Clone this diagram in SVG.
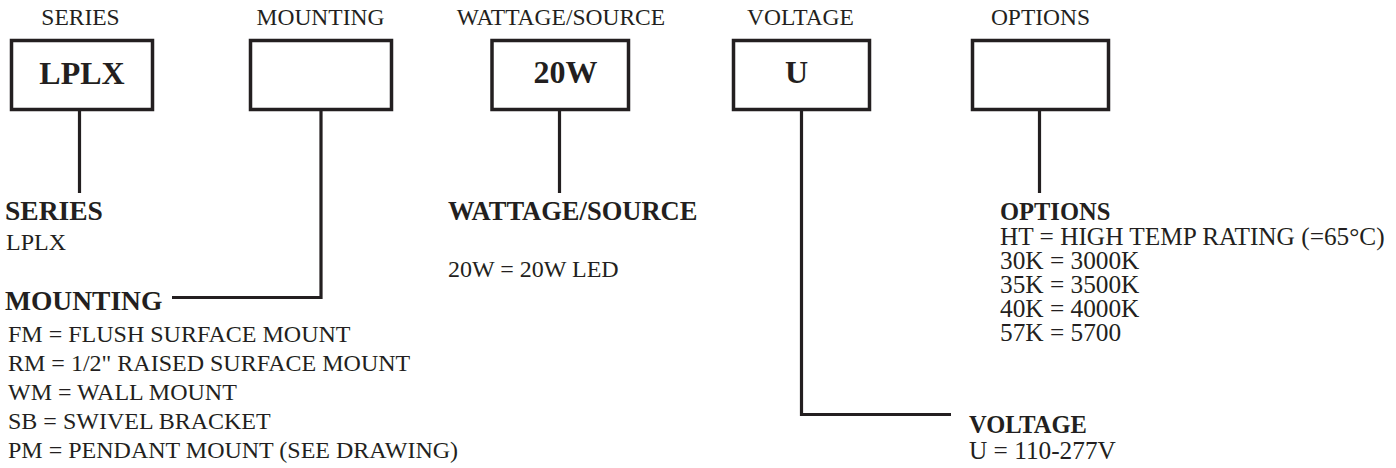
<svg xmlns="http://www.w3.org/2000/svg" width="1396" height="468" viewBox="0 0 1396 468">
<style>
.box{fill:#fff;stroke:#231f20;stroke-width:3.5}
.ln{fill:none;stroke:#231f20;stroke-width:3.2}
text{font-family:"Liberation Serif","Times New Roman",serif;fill:#231f20}
.top{font-size:23.5px;text-anchor:middle}
.code{font-size:32px;font-weight:bold;text-anchor:middle}
.h{font-size:27.5px;font-weight:bold}
.hw{font-size:26.5px;font-weight:bold}
.hr{font-size:24.5px;font-weight:bold}
.t{font-size:24px}
.t2{font-size:25.3px}
</style>
<rect width="1396" height="468" fill="#fff"/>
<g id="connectors">
<path class="ln" d="M79.5 111V193"/>
<path class="ln" d="M321 111V297.5H172"/>
<path class="ln" d="M559.5 111V193"/>
<path class="ln" d="M801.5 111V414.5H951"/>
<path class="ln" d="M1039.5 111V193"/>
</g>
<g id="series">
<text class="top" x="80.5" y="25">SERIES</text>
<rect class="box" x="11.5" y="40.5" width="141" height="69"/>
<text class="code" x="82" y="83.5">LPLX</text>
<text class="h" x="5" y="220">SERIES</text>
<text class="t" x="6" y="250">LPLX</text>
</g>
<g id="mounting">
<text class="top" x="320.5" y="25">MOUNTING</text>
<rect class="box" x="250.5" y="40.5" width="141" height="69"/>
<text class="h" x="5" y="310">MOUNTING</text>
<text class="t" x="8" y="341.5">FM = FLUSH SURFACE MOUNT</text>
<text class="t" x="8" y="370.5">RM = 1/2" RAISED SURFACE MOUNT</text>
<text class="t" x="8" y="399.5">WM = WALL MOUNT</text>
<text class="t" x="8" y="429">SB = SWIVEL BRACKET</text>
<text class="t" x="8" y="458">PM = PENDANT MOUNT (SEE DRAWING)</text>
</g>
<g id="wattage">
<text class="top" x="561" y="25">WATTAGE/SOURCE</text>
<rect class="box" x="492" y="40.5" width="136.5" height="69"/>
<text class="code" x="565.5" y="83">20W</text>
<text class="hw" x="448" y="220">WATTAGE/SOURCE</text>
<text class="t" x="448" y="277">20W = 20W LED</text>
</g>
<g id="voltage">
<text class="top" x="800.5" y="25">VOLTAGE</text>
<rect class="box" x="733.5" y="40.5" width="136" height="69"/>
<text class="code" x="796.5" y="83">U</text>
<text class="hr" x="969" y="433">VOLTAGE</text>
<text class="t2" x="969" y="459">U = 110-277V</text>
</g>
<g id="options">
<text class="top" x="1040.5" y="25">OPTIONS</text>
<rect class="box" x="972.5" y="40.5" width="136" height="69"/>
<text class="hr" x="1000" y="220">OPTIONS</text>
<text class="t2" x="1000" y="245">HT = HIGH TEMP RATING (=65°C)</text>
<text class="t2" x="1000" y="269">30K = 3000K</text>
<text class="t2" x="1000" y="293">35K = 3500K</text>
<text class="t2" x="1000" y="317">40K = 4000K</text>
<text class="t2" x="1000" y="341">57K = 5700</text>
</g>
</svg>
